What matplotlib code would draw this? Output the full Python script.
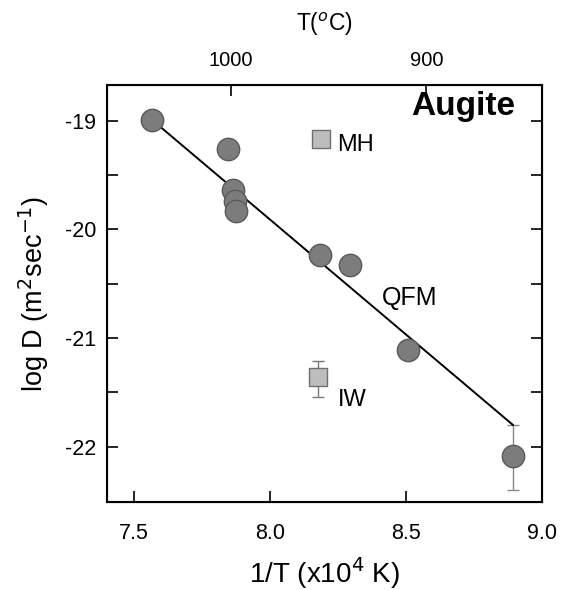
import matplotlib.pyplot as plt
import numpy as np

plt.rcParams['font.family'] = ['Liberation Sans', 'DejaVu Sans']
plt.rcParams['axes.unicode_minus'] = False

# QFM experiments (circles)
qfm_x = [7.565, 7.845, 7.865, 7.870, 7.875, 8.183, 8.293, 8.507, 8.893]
qfm_y = [-18.99, -19.26, -19.64, -19.74, -19.83, -20.24, -20.33, -21.11, -22.09]
# error bar only on the last point
qfm_err_lo = [0, 0, 0, 0, 0, 0, 0, 0, 0.31]
qfm_err_hi = [0, 0, 0, 0, 0, 0, 0, 0, 0.29]

# MH and IW experiments (squares)
mh_x = [8.187]
mh_y = [-19.17]
iw_x = [8.176]
iw_y = [-21.36]
iw_err_lo = [0.18]
iw_err_hi = [0.15]

# fitted line
fit_x = [7.57, 8.893]
fit_y = [-19.0, -21.80]

# top axis: temperature in C, positions as drawn in the original
top_labels = ['1000', '900']
top_pos = [7.855, 8.575]

fig = plt.figure(figsize=(5.67, 5.90), dpi=100)
ax = fig.add_axes([107/567, 1 - 502/590, (542-107)/567, (502-85)/590])

ax.plot(fit_x, fit_y, color='black', lw=1.4, zorder=2)

ax.errorbar(qfm_x, qfm_y, yerr=[qfm_err_lo, qfm_err_hi], fmt='none',
            ecolor='#888888', elinewidth=1, capsize=4, zorder=1)
ax.scatter(qfm_x, qfm_y, s=260, c='#7c7c7c', edgecolors='#5a5a5a',
           linewidths=1, zorder=3)

ax.errorbar(iw_x, iw_y, yerr=[iw_err_lo, iw_err_hi], fmt='none',
            ecolor='#777777', elinewidth=1, capsize=4, zorder=1)
ax.scatter(mh_x + iw_x, mh_y + iw_y, s=170, marker='s', c='#bdbdbd',
           edgecolors='#707070', linewidths=1, zorder=3)

ax.text(8.246, -19.22, 'MH', fontsize=17, va='center', ha='left')
ax.text(8.25, -21.57, 'IW', fontsize=17, va='center', ha='left')
ax.text(8.514, -20.63, 'QFM', fontsize=18, va='center', ha='center')
ax.text(8.709, -18.87, 'Augite', fontsize=24, fontweight='bold',
        va='center', ha='center')

ax.set_xlim(7.4, 9.0)
ax.set_ylim(-22.51, -18.67)
ax.set_xticks([7.5, 8.0, 8.5, 9.0])
ax.set_xticklabels(['7.5', '8.0', '8.5', '9.0'])
ax.set_yticks([-19, -20, -21, -22])
ax.set_yticks(np.arange(-22.0, -18.6, 0.5), minor=True)
ax.tick_params(which='both', direction='in', length=8, width=1.2,
               labelsize=15.5, right=True, pad=8)
ax.tick_params(axis='x', pad=15)
for s in ax.spines.values():
    s.set_linewidth(1.5)

ax.set_xlabel('1/T (x10$^4$ K)', fontsize=20, labelpad=8)
ax.set_ylabel('log D (m$^2$sec$^{-1}$)', fontsize=19.5, labelpad=10)

top = ax.twiny()
top.set_xlim(ax.get_xlim())
top.set_xticks(top_pos)
top.set_xticklabels(top_labels)
top.tick_params(direction='in', length=8, width=1.2, labelsize=14.5, pad=11)
top.set_xlabel('T($^{o}$C)', fontsize=16.5, labelpad=14)

fig.savefig('out.png', dpi=100)
